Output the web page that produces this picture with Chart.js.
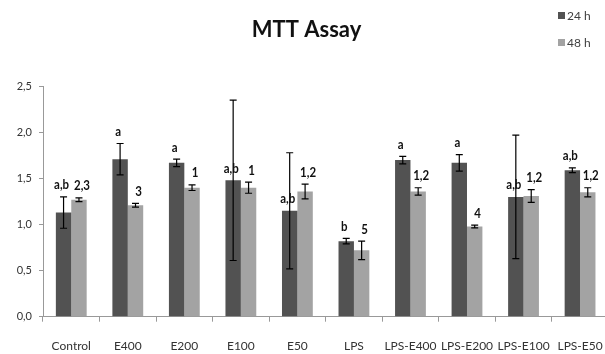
<!DOCTYPE html>
<html>
<head>
<meta charset="utf-8">
<script src="https://cdn.jsdelivr.net/npm/chart.js@4"></script>
<style>
  html, body { margin: 0; padding: 0; background: #fff; overflow: hidden; }
  #wrap { width: 620px; height: 354px; }
</style>
</head>
<body>
<div id="wrap"><canvas id="mtt" width="620" height="354"></canvas></div>
<script>
// data
const groups = ['Control', 'E400', 'E200', 'E100', 'E50', 'LPS', 'LPS-E400', 'LPS-E200', 'LPS-E100', 'LPS-E50'];
const h24 = [1.13, 1.71, 1.67, 1.48, 1.15, 0.82, 1.70, 1.67, 1.30, 1.59];
const h24Err = [0.17, 0.17, 0.04, 0.87, 0.63, 0.03, 0.04, 0.09, 0.67, 0.025];
const h48 = [1.27, 1.21, 1.40, 1.40, 1.36, 0.72, 1.36, 0.98, 1.31, 1.35];
const h48Err = [0.02, 0.02, 0.03, 0.06, 0.08, 0.10, 0.04, 0.015, 0.07, 0.05];
const sig24 = ['a,b', 'a', 'a', 'a,b', 'a,b', 'b', 'a', 'a', 'a,b', 'a,b'];
const sig48 = ['2,3', '3', '1', '1', '1,2', '5', '1,2', '4', '1,2', '1,2'];
const yTicks = [0, 0.5, 1, 1.5, 2, 2.5];

const FONT = 'Lato, "DejaVu Sans", sans-serif';
const errs = [h24Err, h48Err];
const sigs = [sig24, sig48];

// error bars + letters above them
const errorBarPlugin = {
    id: 'errorBars',
    afterDatasetsDraw(chart) {
        const ctx = chart.ctx;
        const y = chart.scales.y;
        chart.data.datasets.forEach((ds, di) => {
            const meta = chart.getDatasetMeta(di);
            meta.data.forEach((bar, i) => {
                const v = ds.data[i];
                const e = errs[di][i];
                const top = y.getPixelForValue(v + e);
                const bot = y.getPixelForValue(v - e);
                ctx.save();
                ctx.strokeStyle = '#000';
                ctx.lineWidth = 1.2;
                ctx.beginPath();
                ctx.moveTo(bar.x, top); ctx.lineTo(bar.x, bot);
                ctx.moveTo(bar.x - 3.5, top); ctx.lineTo(bar.x + 3.5, top);
                ctx.moveTo(bar.x - 3.5, bot); ctx.lineTo(bar.x + 3.5, bot);
                ctx.stroke();

                // big error bars: letters sit on the bar, not on the whisker
                const anchor = e > 0.3 ? y.getPixelForValue(v) : top;
                // squeeze the letters a bit, the original font is a narrow one
                ctx.translate(bar.x + (di === 1 ? 3 : -2), anchor - 12);
                ctx.scale(0.82, 1);
                ctx.fillStyle = '#111';
                ctx.font = 'bold 14px ' + FONT;
                ctx.textAlign = 'center';
                ctx.textBaseline = 'middle';
                ctx.fillText(sigs[di][i], 0, 0);
                ctx.restore();
            });
        });
    }
};

// small legend in the top right corner
const cornerLegend = {
    id: 'cornerLegend',
    afterDraw(chart) {
        const ctx = chart.ctx;
        ctx.save();
        ctx.font = '12px ' + FONT;
        ctx.textBaseline = 'middle';
        ctx.textAlign = 'left';
        chart.data.datasets.forEach((ds, i) => {
            const yy = 16 + i * 27;
            ctx.fillStyle = ds.backgroundColor;
            ctx.fillRect(558, yy - 4, 7, 7);
            ctx.fillStyle = '#404040';
            ctx.fillText(ds.label, 567, yy);
        });
        ctx.restore();
    }
};

new Chart(document.getElementById('mtt'), {
    type: 'bar',
    data: {
        labels: groups,
        datasets: [
            { label: '24 h', data: h24, backgroundColor: '#525252' },
            { label: '48 h', data: h48, backgroundColor: '#a3a3a3' }
        ]
    },
    options: {
        responsive: false,
        animation: false,
        categoryPercentage: 0.545,
        barPercentage: 1.0,
        layout: { padding: { left: 0, right: 7, top: 0, bottom: 0 } },
        plugins: {
            legend: { display: false },
            tooltip: { enabled: false },
            title: {
                display: true,
                text: 'MTT Assay',
                color: '#111',
                font: { family: FONT, size: 22, weight: 'bold' },
                padding: { top: 17, bottom: 43 }
            }
        },
        scales: {
            x: {
                afterFit: s => { s.height = 37.3; },
                grid: { offset: true, drawOnChartArea: false, tickLength: 5, color: '#999' },
                border: { color: '#999' },
                ticks: { color: '#333', font: { family: FONT, size: 12 }, padding: 17, maxRotation: 0, autoSkip: false }
            },
            y: {
                min: 0,
                max: 2.5,
                afterFit: s => { s.width = 43; },
                afterBuildTicks: s => { s.ticks = yTicks.map(v => ({ value: v })); },
                grid: { drawOnChartArea: false, tickLength: 4, color: '#999' },
                border: { color: '#999' },
                ticks: {
                    color: '#333',
                    font: { family: FONT, size: 11 },
                    padding: 7,
                    callback: v => v.toFixed(1).replace('.', ',')
                }
            }
        }
    },
    plugins: [errorBarPlugin, cornerLegend]
});
</script>
</body>
</html>
